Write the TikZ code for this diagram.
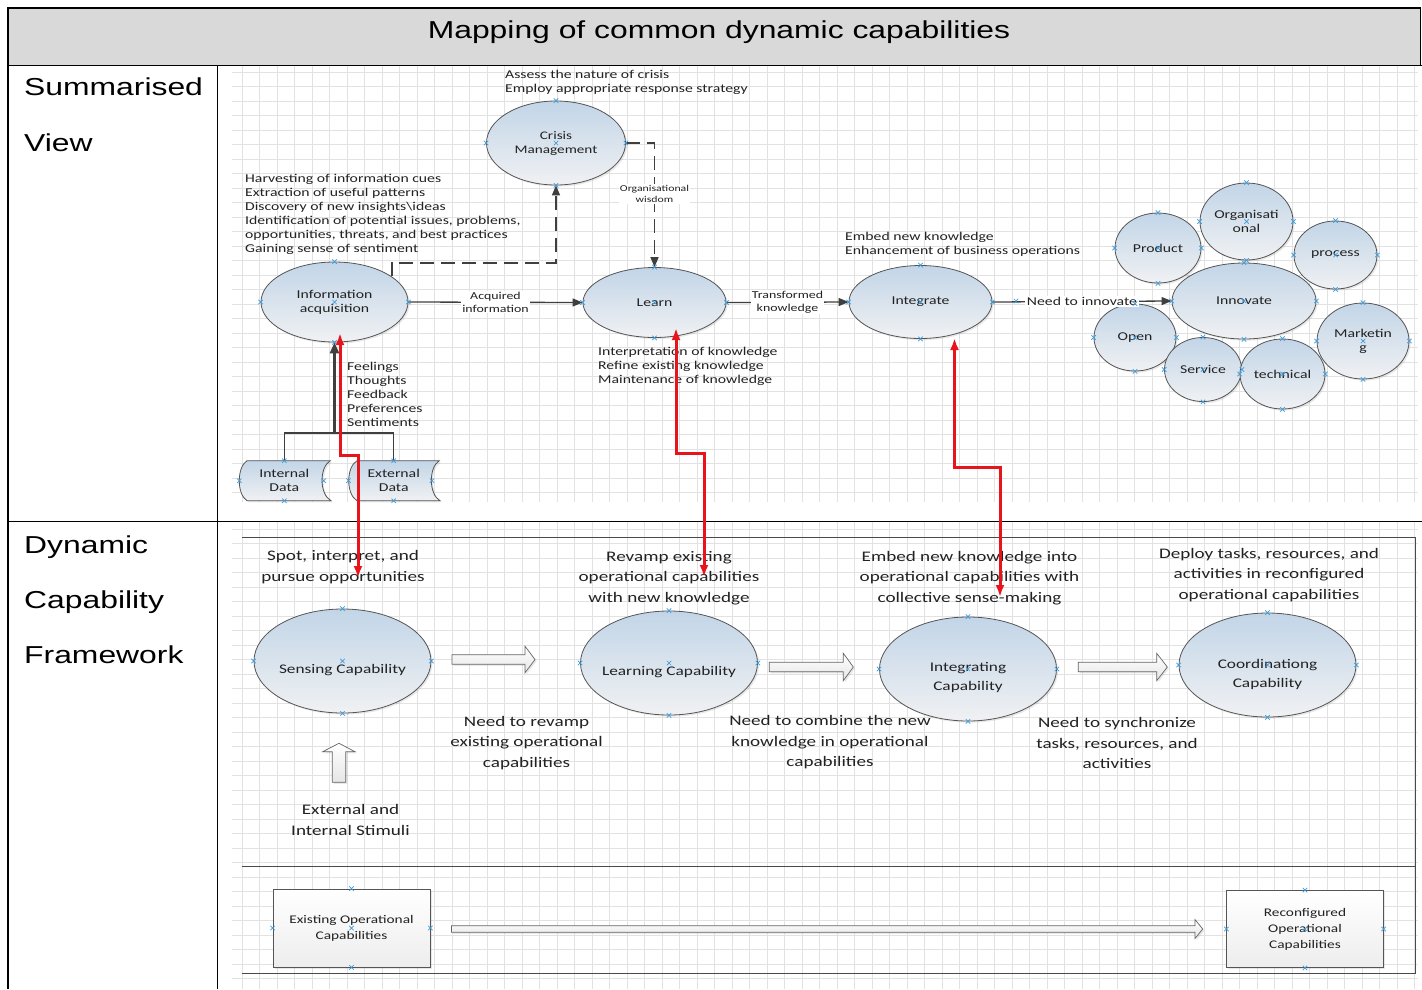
\documentclass[tikz,border=0pt]{standalone}
\usepackage{fontspec}
\usetikzlibrary{shapes.geometric,arrows.meta,shadows}
\newfontfamily\tabfont{Liberation Sans}[FakeStretch=1.3]
\newfontfamily\dgfont{Carlito}[FakeStretch=1.31]

\definecolor{titlebg}{HTML}{D9D9D9}
\definecolor{gridc}{HTML}{E2E2E2}
\definecolor{edgeC}{HTML}{555555}
\definecolor{connC}{HTML}{3F3F3F}
\definecolor{laneC}{HTML}{4A4A4A}
\definecolor{ellTop}{HTML}{C2D5E7}
\definecolor{ellBot}{HTML}{F0F1F3}
\definecolor{markc}{HTML}{3C9BDC}
\definecolor{redc}{HTML}{E8141B}
\definecolor{txtC}{HTML}{222222}

\tikzset{
  xm/.pic={\draw[markc, line width=0.7pt] (-2.2pt,-2.2pt) -- (2.2pt,2.2pt) (-2.2pt,2.2pt) -- (2.2pt,-2.2pt);},
  gridline/.style={draw=gridc, line width=0.5pt},
  tabline/.style={draw=black, line width=1.4pt},
  lane/.style={draw=laneC, line width=1pt},
  softshadow/.style={drop shadow={opacity=0.18, shadow xshift=1.6pt, shadow yshift=-1.6pt}},
  bub/.style={ellipse, draw=edgeC, line width=0.8pt, top color=ellTop, bottom color=ellBot,
    inner sep=0pt, align=center, text=txtC, font=\dgfont\fontsize{12}{14}\selectfont, softshadow},
  capbub/.style={bub, minimum width=177, minimum height=104},
  captext/.style={inner sep=0pt, align=center, text=txtC, font=\dgfont\fontsize{13.2}{18.5}\selectfont},
  datashape/.style={draw=edgeC, line width=0.8pt, top color=ellTop, bottom color=ellBot, softshadow},
  datatext/.style={inner sep=0pt, align=center, text=txtC, font=\dgfont\fontsize{12}{14}\selectfont},
  opbox/.style={rectangle, draw=edgeC, line width=0.8pt, top color=white, bottom color=black!7,
    inner sep=0pt, align=center, text=txtC, font=\dgfont\fontsize{11.7}{16}\selectfont, softshadow},
  blockarr/.style={draw=black!60, line width=0.7pt, top color=white, bottom color=black!10, softshadow},
  note/.style={inner sep=0pt, align=left, text=txtC, font=\dgfont\fontsize{12}{14}\selectfont},
  bignote/.style={inner sep=0pt, align=center, text=txtC, font=\dgfont\fontsize{14.6}{20.5}\selectfont},
  lab/.style={fill=white, inner sep=1pt, align=center, text=txtC, font=\dgfont\fontsize{10.6}{12.5}\selectfont},
  smalllab/.style={lab, font=\dgfont\fontsize{9}{11}\selectfont},
  conn/.style={draw=connC, line width=1.3pt, -{Triangle[length=10pt,width=8pt]}},
  dashconn/.style={conn, line width=1.6pt, dash pattern=on 14pt off 7pt},
  feed/.style={draw=connC, line width=1.5pt},
  thickconn/.style={draw=connC, line width=2.6pt, -{Triangle[length=11pt,width=9pt]}},
  redlink/.style={draw=redc, line width=3pt, {Latex[length=12pt,width=9pt]}-{Latex[length=12pt,width=9pt]}},
  rowlab/.style={anchor=base west, inner sep=0pt, font=\tabfont\fontsize{24.5}{28}\selectfont}
}
\newcommand\cpts[1]{\foreach \pp in {north,south,east,west,center}{\pic at (#1.\pp) {xm};}}

\begin{document}
\begin{tikzpicture}[x=1pt,y=-1pt]
\useasboundingbox (0,0) rectangle (1422,989);
\fill[white] (0,0) rectangle (1422,989);

% background grids of the two drawing panels
\foreach \gx in {242,259.5,...,1418} {\draw[gridline] (\gx,66) -- (\gx,502);}
\foreach \gy in {72,86.5,...,502} {\draw[gridline] (232,\gy) -- (1418,\gy);}
\foreach \gx in {242,259.5,...,1418} {\draw[gridline] (\gx,522) -- (\gx,989);}
\foreach \gy in {529,543.5,...,989} {\draw[gridline] (232,\gy) -- (1418,\gy);}

% table frame
\fill[titlebg] (8,8) rectangle (1420.5,65.5);
\draw[tabline] (8,989) -- (8,8) -- (1420.5,8) -- (1420.5,65.5);
\draw[tabline] (8,65.5) -- (1422,65.5);
\draw[tabline] (217.5,65.5) -- (217.5,989);
\draw[tabline] (8,521.5) -- (1422,521.5);

\node[anchor=base, inner sep=0pt, font=\tabfont\fontsize{24.5}{28}\selectfont] (title) at (719,38) {Mapping of common dynamic capabilities};
\node[rowlab] (rowA1) at (24,95) {Summarised};
\node[rowlab] (rowA2) at (24,151) {View};
\node[rowlab] (rowB1) at (24,553) {Dynamic};
\node[rowlab] (rowB2) at (24,608) {Capability};
\node[rowlab] (rowB3) at (24,663) {Framework};

% ---------- summarised view ----------
\node[note, anchor=west] (crisisNote) at (505,82) {Assess the nature of crisis\\Employ appropriate response strategy};
\node[note, anchor=west] (infoNote) at (245,214.5) {Harvesting of information cues\\Extraction of useful patterns\\Discovery of new insights\textbackslash ideas\\Identification of potential issues, problems,\\opportunities, threats, and best practices\\Gaining sense of sentiment};
\node[note, anchor=west] (integNote) at (845,244.5) {Embed new knowledge\\Enhancement of business operations};
\node[note, anchor=west] (learnNote) at (598,366.5) {Interpretation of knowledge\\Refine existing  knowledge\\Maintenance of knowledge};
\node[note, anchor=west] (feelNote) at (347,394.5) {Feelings\\Thoughts\\Feedback\\Preferences\\Sentiments};

\node[bub, minimum width=139, minimum height=84, font=\dgfont\fontsize{11.6}{14}\selectfont] (crisis) at (556,143) {Crisis\\Management};
\node[bub, minimum width=147, minimum height=80] (info) at (334.5,302) {Information\\acquisition};
\node[bub, minimum width=143, minimum height=70] (learn) at (654.5,302.5) {Learn};
\node[bub, minimum width=143, minimum height=73] (integ) at (920.5,302) {Integrate};

\node[bub, minimum width=144, minimum height=76] (innov) at (1244,301) {Innovate};
\node[bub, minimum width=86, minimum height=70] (prod) at (1158,248) {Product};
\node[bub, minimum width=93, minimum height=77] (orgn) at (1246.5,221.5) {Organisati\\onal};
\node[bub, minimum width=83, minimum height=68] (proc) at (1335.5,255) {process};
\node[bub, minimum width=92, minimum height=76] (mkt) at (1363,341) {Marketin\\g};
\node[bub, minimum width=82, minimum height=67] (open) at (1135,337.5) {Open};
\node[bub, minimum width=77, minimum height=64] (serv) at (1203,369.5) {Service};
\node[bub, minimum width=85, minimum height=70] (tech) at (1282.5,374) {technical};

% stored-data symbols
\draw[datashape] (247,460.7) .. controls (236.7,467) and (236.7,494.4) .. (247,500.7)
  -- (331,500.7) .. controls (319.2,494.4) and (319.2,467) .. (330.3,460.7) -- cycle;
\draw[datashape] (357,460.7) .. controls (346,467) and (346,494.4) .. (357,500.7)
  -- (440,500.7) .. controls (428.6,494.4) and (428.6,467) .. (439.3,460.7) -- cycle;
\node[datatext, minimum height=40] (intd) at (284.3,480.7) {Internal\\Data};
\node[datatext, minimum height=40] (extd) at (393.7,480.7) {External\\Data};
\coordinate (feedJoin) at (334.5,433);

% connectors
\draw[conn] (info.east) -- node[lab] (acqLab) {Acquired\\information} (learn.west);
\draw[conn] (learn.east) -- node[lab] (trnLab) {Transformed\\knowledge} (integ.west);
\draw[conn] (integ.east) -- node[lab, inner sep=1.5pt, font=\dgfont\fontsize{12}{14}\selectfont] (innLab) {Need to innovate} (innov.west);
\coordinate (dashTurn) at (556,263);
\draw[dashconn] (info.24) |- (dashTurn) -- (crisis.south);
\draw[dashconn] (crisis.east) -| node[smalllab, pos=0.705] (wisLab) {Organisational\\wisdom} (learn.north);
\draw[feed] (intd.north) |- (feedJoin) -| (extd.north);
\draw[thickconn] (feedJoin) -- (info.south);

% connection points
\foreach \n in {crisis,info,learn,integ,innov,prod,orgn,proc,mkt,open,serv,tech} {\cpts{\n}}
\foreach \q in {(284.3,460.7),(284.3,500.7),(239.3,480.7),(323.7,480.7),(393.7,460.7),(393.7,500.7),(348.5,480.7),(432,480.7),(1016,301)} {\pic at \q {xm};}

% ---------- dynamic capability framework ----------
\draw[lane] (242,537) -- (1415,537) -- (1415,973) -- (242,973);
\draw[lane] (242,866.5) -- (1415,866.5);

\node[bignote] (spotN) at (343,567) {Spot, interpret, and\\pursue opportunities};
\node[bignote] (revampN) at (669,578) {Revamp existing\\operational capabilities\\with new knowledge};
\node[bignote] (embedN) at (969.5,578) {Embed new knowledge into\\operational capabilities with\\collective sense-making};
\node[bignote] (deployN) at (1269,575) {Deploy tasks, resources, and\\activities in reconfigured\\operational capabilities};
\node[bignote] (needRev) at (526.5,743) {Need to revamp\\existing operational\\capabilities};
\node[bignote] (needComb) at (830,742.5) {Need to combine the new\\knowledge in operational\\capabilities};
\node[bignote] (needSync) at (1117,743) {Need to synchronize\\tasks, resources, and\\activities};
\node[bignote] (stimN) at (350.5,820) {External and\\Internal Stimuli};

\node[capbub] (sens) at (342.5,661) {};
\node[capbub] (lrnc) at (669,663) {};
\node[capbub] (intc) at (968,669) {};
\node[capbub] (crdc) at (1267.5,665) {};
\node[captext] (sensT) at (342.5,670.5) {Sensing Capability};
\node[captext] (lrncT) at (669,672.5) {Learning Capability};
\node[captext] (intcT) at (968,677.5) {Integrating\\Capability};
\node[captext] (crdcT) at (1267.5,674.5) {Coordinationg\\Capability};

\node[opbox, minimum width=157, minimum height=78] (exop) at (351.5,928) {Existing Operational\\Capabilities};
\node[opbox, minimum width=156.5, minimum height=77] (reop) at (1305,929) {Reconfigured\\Operational\\Capabilities};

% hollow block arrows
\draw[blockarr] (452,654.8) -- (525,654.8) -- (525,646.2) -- (535,659.5) -- (525,672.8) -- (525,664.2) -- (452,664.2) -- cycle;
\draw[blockarr] (769.3,662.3) -- (843.3,662.3) -- (843.3,653.3) -- (853.3,667) -- (843.3,680.7) -- (843.3,671.7) -- (769.3,671.7) -- cycle;
\draw[blockarr] (1078.3,662.3) -- (1156.7,662.3) -- (1156.7,653.3) -- (1167.3,667) -- (1156.7,680.7) -- (1156.7,671.7) -- (1078.3,671.7) -- cycle;
\draw[blockarr] (332.3,782.3) -- (332.3,751.7) -- (322.7,751.7) -- (339,743.3) -- (355,751.7) -- (345.7,751.7) -- (345.7,782.3) -- cycle;
\draw[blockarr] (451.5,925.7) -- (1195,925.7) -- (1195,919.5) -- (1202.7,929) -- (1195,938.5) -- (1195,932.3) -- (451.5,932.3) -- cycle;

\foreach \n in {sens,lrnc,intc,crdc,exop,reop} {\cpts{\n}}

% links between the two views
\coordinate (r1t) at (340,333);  \coordinate (r1a) at (358,455);  \coordinate (r1b) at (358,578);
\coordinate (r2t) at (676,328);  \coordinate (r2a) at (704,453);  \coordinate (r2b) at (704,577);
\coordinate (r3t) at (954.5,338); \coordinate (r3a) at (1000,467); \coordinate (r3b) at (1000,597);
\draw[redlink] (r1b) -- (r1a) -| (r1t);
\draw[redlink] (r2b) -- (r2a) -| (r2t);
\draw[redlink] (r3b) -- (r3a) -| (r3t);
\end{tikzpicture}
\end{document}
